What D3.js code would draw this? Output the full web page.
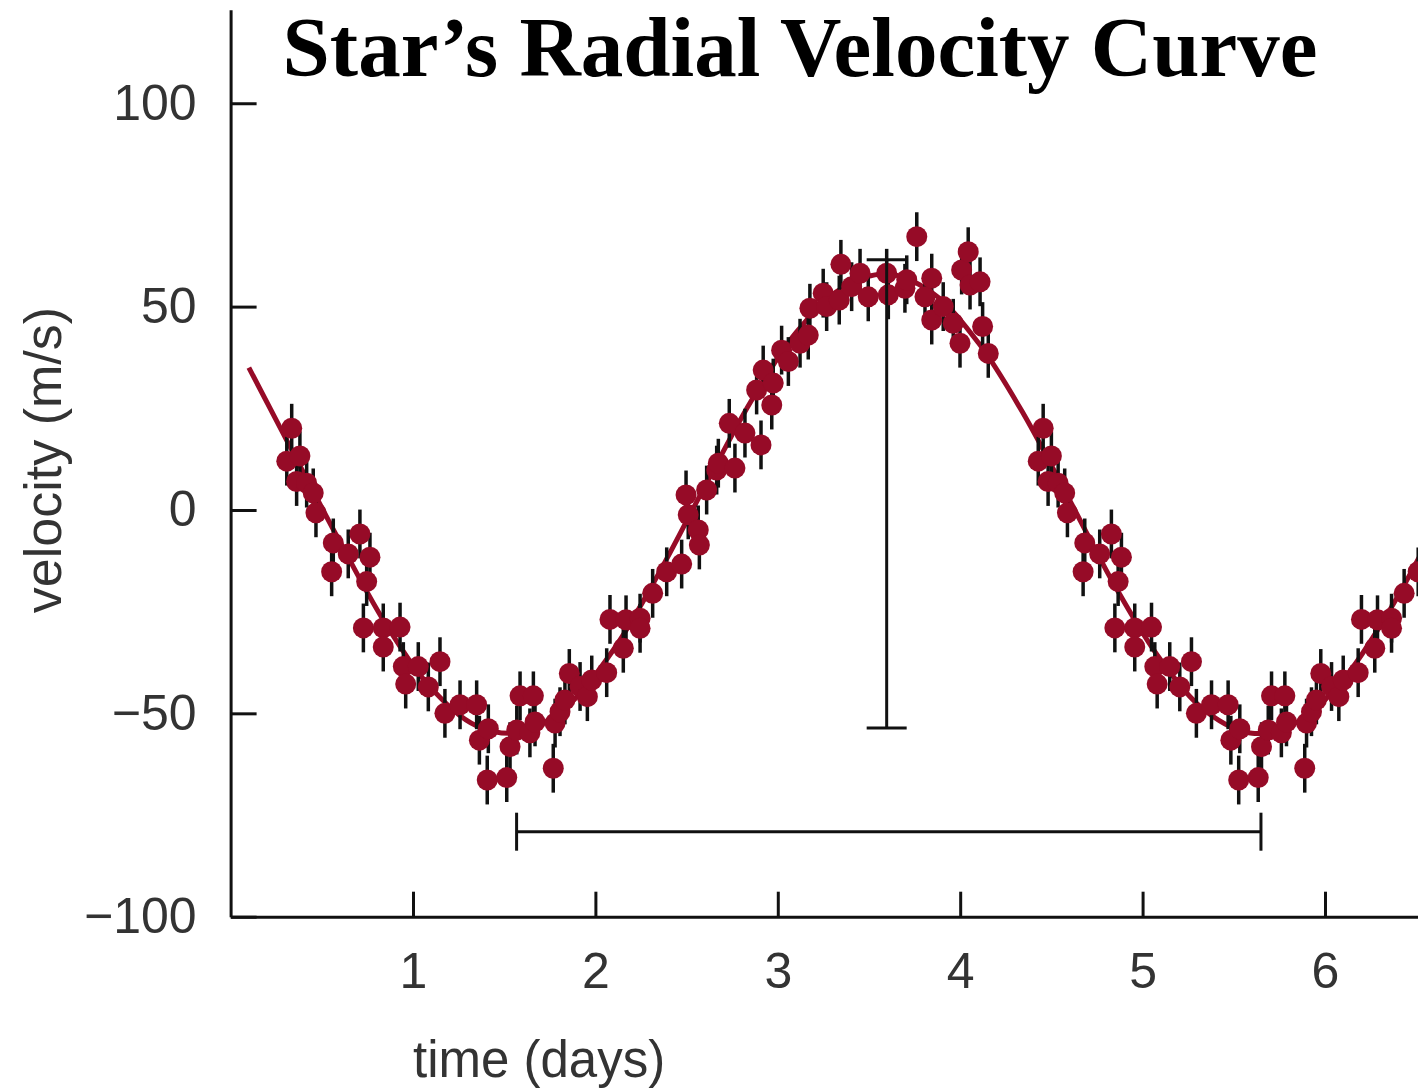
<!DOCTYPE html>
<html>
<head>
<meta charset="utf-8">
<script src="https://cdn.jsdelivr.net/npm/d3@7"></script>
<style>
  body { margin: 0; background: #fff; }
  svg { display: block; }
</style>
</head>
<body>
<div id="chart"></div>
<script>
// measured velocities, first pass through the orbit [time (days), velocity (m/s)]
const cycleOne = [
  [0.308, 12.0], [0.335, 20.1], [0.362, 7.0], [0.380, 13.3], [0.417, 6.6],
  [0.453, 4.2], [0.468, -0.7], [0.554, -15.2], [0.563, -8.1], [0.645, -10.8],
  [0.709, -5.9], [0.728, -29.0], [0.746, -17.6], [0.764, -11.6], [0.837, -29.0],
  [0.837, -33.7], [0.929, -28.8], [0.947, -38.5], [0.960, -42.8], [1.029, -38.5],
  [1.084, -43.5], [1.148, -37.3], [1.175, -50.0], [1.258, -47.9], [1.349, -47.9],
  [1.364, -56.6], [1.407, -66.4], [1.413, -53.8], [1.514, -65.8], [1.532, -58.2],
  [1.569, -54.1], [1.587, -45.7], [1.641, -54.8], [1.660, -45.7], [1.669, -52.1],
  [1.769, -63.5], [1.779, -52.4], [1.806, -49.6], [1.833, -46.7], [1.857, -40.2],
  [1.916, -43.4], [1.956, -45.9], [1.980, -41.8], [2.062, -40.0], [2.080, -26.9],
  [2.153, -34.0], [2.168, -27.0], [2.245, -26.6], [2.245, -29.1], [2.314, -20.5],
  [2.391, -15.2], [2.473, -13.3], [2.497, 3.7], [2.509, -1.2], [2.564, -4.9],
  [2.570, -8.6], [2.610, 4.9], [2.665, 9.8], [2.674, 11.5], [2.734, 21.3],
  [2.765, 10.3], [2.820, 18.9], [2.884, 29.5], [2.908, 16.0], [2.920, 34.4],
  [2.967, 25.8], [2.975, 31.2], [3.021, 39.3], [3.058, 36.5], [3.122, 41.0],
  [3.167, 43.0], [3.176, 49.6], [3.249, 53.3], [3.268, 50.0], [3.337, 51.6],
  [3.346, 60.4], [3.405, 54.9], [3.451, 58.2], [3.496, 52.4], [3.597, 58.2],
  [3.606, 52.9], [3.697, 54.5], [3.707, 56.6], [3.762, 67.2], [3.807, 52.4],
  [3.844, 57.0], [3.844, 46.7], [3.907, 50.0], [3.962, 45.9], [3.999, 41.0],
  [4.008, 59.0], [4.044, 63.5], [4.054, 55.3], [4.109, 56.1], [4.123, 45.1],
  [4.154, 38.5],
];

// the same measurements shown again one period later
const cycleTwo = [
  [4.428, 12.0], [4.455, 20.1], [4.482, 7.0], [4.500, 13.3], [4.537, 6.6],
  [4.573, 4.2], [4.588, -0.7], [4.674, -15.2], [4.683, -8.1], [4.765, -10.8],
  [4.829, -5.9], [4.848, -29.0], [4.866, -17.6], [4.884, -11.6], [4.957, -29.0],
  [4.957, -33.7], [5.049, -28.8], [5.067, -38.5], [5.080, -42.8], [5.149, -38.5],
  [5.204, -43.5], [5.268, -37.3], [5.295, -50.0], [5.378, -47.9], [5.469, -47.9],
  [5.484, -56.6], [5.527, -66.4], [5.533, -53.8], [5.634, -65.8], [5.652, -58.2],
  [5.689, -54.1], [5.707, -45.7], [5.761, -54.8], [5.780, -45.7], [5.789, -52.1],
  [5.889, -63.5], [5.899, -52.4], [5.926, -49.6], [5.953, -46.7], [5.977, -40.2],
  [6.036, -43.4], [6.076, -45.9], [6.100, -41.8], [6.182, -40.0], [6.200, -26.9],
  [6.273, -34.0], [6.288, -27.0], [6.365, -26.6], [6.365, -29.1], [6.434, -20.5],
  [6.511, -15.2],
];

// fitted curve
const fitCurve = [
  [0.10, 35.0], [0.35, 13.5], [0.60, -7.9], [0.85, -28.0], [1.10, -43.8],
  [1.35, -53.1], [1.60, -54.6], [1.85, -48.0], [2.10, -34.3], [2.35, -15.4],
  [2.60, 5.8], [2.85, 26.5], [3.10, 43.6], [3.35, 54.5], [3.60, 58.0],
  [3.85, 53.3], [4.10, 41.1], [4.35, 23.4], [4.60, 2.4], [4.85, -18.8],
  [5.10, -36.9], [5.35, -49.6], [5.60, -54.9], [5.85, -52.1], [6.10, -41.7],
  [6.35, -25.0], [6.60, -4.5],
];

const errorSize = 6; // +/- m/s
const xTicks = [1, 2, 3, 4, 5, 6];
const yTicks = [-100, -50, 0, 50, 100];
const amplitudeBar = { t: 3.597, low: -53.6, high: 61.5 };
const periodBar = { start: 1.568, end: 5.649, v: -79.1 };

const title = "Star’s Radial Velocity Curve";
const xLabel = "time (days)";
const yLabel = "velocity (m/s)";

function createChart(containerId) {
  const width = 1418;
  const height = 1091;
  const red = "#960b27";
  const tickFont = "'Liberation Sans', Arial, Helvetica, sans-serif";

  const svg = d3
    .select(containerId)
    .append("svg")
    .attr("width", width)
    .attr("height", height)
    .style("background", "#fff");

  const xScale = d3.scaleLinear().domain([0, 6.51]).range([230.6, 1418]);
  const yScale = d3.scaleLinear().domain([-100, 123]).range([916.7, 9.7]);

  // Title

  svg
    .append("text")
    .attr("x", 800)
    .attr("y", 76)
    .attr("text-anchor", "middle")
    .attr("font-family", "'Liberation Serif', 'Times New Roman', serif")
    .attr("font-weight", "bold")
    .attr("font-size", "85px")
    .attr("fill", "#000")
    .text(title);

  // Fitted curve

  svg
    .append("path")
    .datum(fitCurve)
    .attr("fill", "none")
    .attr("stroke", red)
    .attr("stroke-width", 5)
    .attr(
      "d",
      d3
        .line()
        .x((d) => xScale(d[0]))
        .y((d) => yScale(d[1]))
        .curve(d3.curveCatmullRom)
    );

  // Measurements with error bars

  const points = cycleOne.concat(cycleTwo);

  svg
    .append("g")
    .selectAll("line")
    .data(points)
    .enter()
    .append("line")
    .attr("x1", (d) => xScale(d[0]))
    .attr("x2", (d) => xScale(d[0]))
    .attr("y1", (d) => yScale(d[1] + errorSize))
    .attr("y2", (d) => yScale(d[1] - errorSize))
    .attr("stroke", "#111")
    .attr("stroke-width", 3.5);

  svg
    .append("g")
    .selectAll("circle")
    .data(points)
    .enter()
    .append("circle")
    .attr("cx", (d) => xScale(d[0]))
    .attr("cy", (d) => yScale(d[1]))
    .attr("r", 10.5)
    .attr("fill", red);

  // Amplitude and period markers

  const marker = svg
    .append("g")
    .attr("stroke", "#111")
    .attr("stroke-width", 3)
    .attr("fill", "none");

  marker
    .append("line")
    .attr("x1", xScale(amplitudeBar.t))
    .attr("x2", xScale(amplitudeBar.t))
    .attr("y1", yScale(amplitudeBar.high))
    .attr("y2", yScale(amplitudeBar.low));

  [amplitudeBar.high, amplitudeBar.low].forEach((v) => {
    marker
      .append("line")
      .attr("x1", xScale(amplitudeBar.t) - 20)
      .attr("x2", xScale(amplitudeBar.t) + 20)
      .attr("y1", yScale(v))
      .attr("y2", yScale(v));
  });

  marker
    .append("line")
    .attr("x1", xScale(periodBar.start))
    .attr("x2", xScale(periodBar.end))
    .attr("y1", yScale(periodBar.v))
    .attr("y2", yScale(periodBar.v));

  [periodBar.start, periodBar.end].forEach((t) => {
    marker
      .append("line")
      .attr("x1", xScale(t))
      .attr("x2", xScale(t))
      .attr("y1", yScale(periodBar.v) - 19)
      .attr("y2", yScale(periodBar.v) + 19);
  });

  // Axis

  const xAxis = svg
    .append("g")
    .attr("transform", `translate(0, ${yScale(-100)})`)
    .call(
      d3
        .axisBottom(xScale)
        .tickValues(xTicks)
        .tickFormat(d3.format("d"))
        .tickSizeInner(-25)
        .tickSizeOuter(0)
        .tickPadding(36)
    );

  const yAxis = svg
    .append("g")
    .attr("transform", `translate(${xScale(0)}, 0)`)
    .call(
      d3
        .axisLeft(yScale)
        .tickValues(yTicks)
        .tickFormat(d3.format("d"))
        .tickSizeInner(-26)
        .tickSizeOuter(0)
        .tickPadding(34)
    );

  [xAxis, yAxis].forEach((axis) => {
    axis.selectAll("path, line").attr("stroke", "#111").attr("stroke-width", 3);
    axis
      .selectAll("text")
      .attr("font-family", tickFont)
      .attr("font-size", "50px")
      .attr("fill", "#333");
  });

  svg
    .append("text")
    .attr("x", 413)
    .attr("y", 1077)
    .attr("font-family", tickFont)
    .attr("font-size", "51px")
    .attr("fill", "#333")
    .text(xLabel);

  svg
    .append("text")
    .attr("transform", "translate(61, 460) rotate(-90)")
    .attr("text-anchor", "middle")
    .attr("font-family", tickFont)
    .attr("font-size", "52px")
    .attr("fill", "#333")
    .text(yLabel);
}

createChart("#chart");
</script>
</body>
</html>
